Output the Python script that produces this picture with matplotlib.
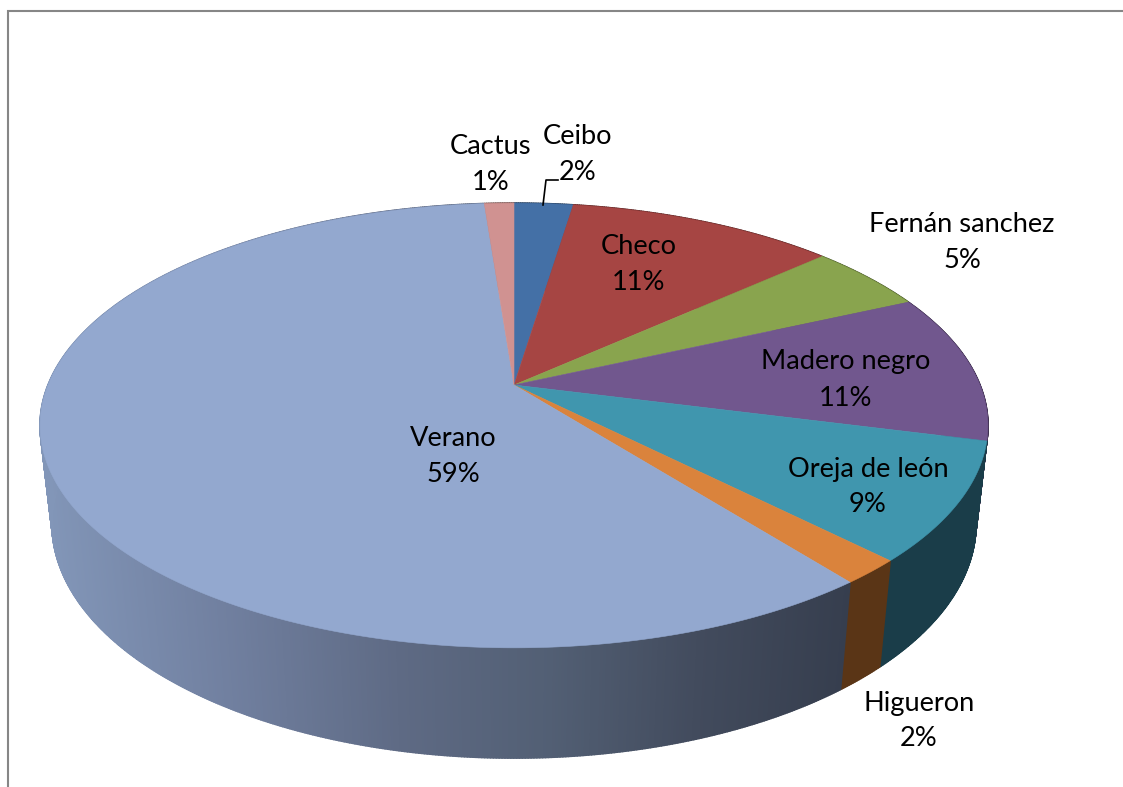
import numpy as np
import matplotlib
matplotlib.use("Agg")
import matplotlib.pyplot as plt
from matplotlib.collections import PolyCollection
from matplotlib.colors import to_rgb

# ---- data (clockwise from 12 o'clock) ----
categories = ["Ceibo", "Checo", "Fernán sanchez", "Madero negro",
              "Oreja de león", "Higueron", "Verano", "Cactus"]
values = [2.4, 10.9, 4.9, 10.8, 8.6, 1.8, 59.4, 1.2]
labels_pct = ["2%", "11%", "5%", "11%", "9%", "2%", "59%", "1%"]

top_colors = ["#4470A6", "#A64543", "#89A44E", "#71578E",
              "#4096AE", "#DA833C", "#93A8CF", "#D09291"]
side_colors = ["#27405F", "#5F2726", "#4E5E2C", "#3F3050",
               "#1A3D49", "#5A3516", None, "#77524F"]

# gradient of the large wall, by screen x
grad_x = [40, 220, 400, 550, 700, 850]
grad_c = [(130, 150, 184), (113, 128, 160), (94, 106, 132),
          (82, 95, 116), (66, 75, 93), (54, 62, 78)]

label_pos = {
    "Ceibo": (578, 136), "Checo": (639, 247), "Fernán sanchez": (962, 224),
    "Madero negro": (846, 362), "Oreja de león": (868, 469),
    "Higueron": (919, 703), "Verano": (453, 439), "Cactus": (491, 146),
}
pct_dy = 36

# ---- projection of the tilted disc (with perspective) ----
CX, CY = 514.0, 385.0
A, B, K = 466.0, 215.0, 0.182
M, C = 0.025, 99.5


def project(theta, z):
    """theta clockwise from top, z=0 top face, z=1 bottom face."""
    X, Y = np.sin(theta), np.cos(theta)
    w = 1 + K * Y + M * z
    return CX + A * X / w, CY - (B * Y - C * z) / w


fig = plt.figure(figsize=(11.23, 7.87), dpi=100, facecolor="white")
ax = fig.add_axes([0, 0, 1, 1])
ax.set_xlim(0, 1123)
ax.set_ylim(787, 0)
ax.axis("off")

# chart frame
ax.plot([7.5, 7.5, 1123], [787, 10.5, 10.5], color="#868686", lw=1.5,
        solid_joinstyle="miter", zorder=1)

edges = 2 * np.pi * np.concatenate([[0], np.cumsum(values)]) / sum(values)

# walls
for i in range(len(values)):
    th = np.linspace(edges[i], edges[i + 1], max(4, int(values[i] * 12)))
    polys, cols = [], []
    for a, b in zip(th[:-1], th[1:]):
        tt = np.array([a, b])
        x0, y0 = project(tt, 0)
        x1, y1 = project(tt, 1)
        polys.append(np.column_stack([[x0[0], x0[1], x1[1], x1[0]],
                                      [y0[0], y0[1], y1[1], y1[0]]]))
        if side_colors[i] is None:
            xm = (x0[0] + x0[1]) / 2
            cols.append([np.interp(xm, grad_x, [c[j] for c in grad_c]) / 255
                         for j in range(3)])
        else:
            cols.append(to_rgb(side_colors[i]))
    ax.add_collection(PolyCollection(polys, facecolors=cols, edgecolors=cols,
                                     linewidths=1.2, zorder=2))

# top face
for i in range(len(values)):
    th = np.linspace(edges[i], edges[i + 1], max(8, int(values[i] * 12)))
    x, y = project(th, 0)
    xs = np.concatenate([[CX], x])
    ys = np.concatenate([[CY], y])
    ax.fill(xs, ys, facecolor=top_colors[i], edgecolor=top_colors[i],
            lw=0.4, zorder=3)

# leader line for Ceibo
ax.plot([543, 546, 558], [205, 180, 180], color="black", lw=1.2, zorder=4)

# labels
for name, pct in zip(categories, labels_pct):
    x, y = label_pos[name]
    for s, yy in ((name, y), (pct, y + pct_dy)):
        ax.text(x, yy, s, ha="center", va="center", fontsize=19.6,
                family="Lato", color="black", zorder=5)

fig.savefig("out.png", dpi=100)
